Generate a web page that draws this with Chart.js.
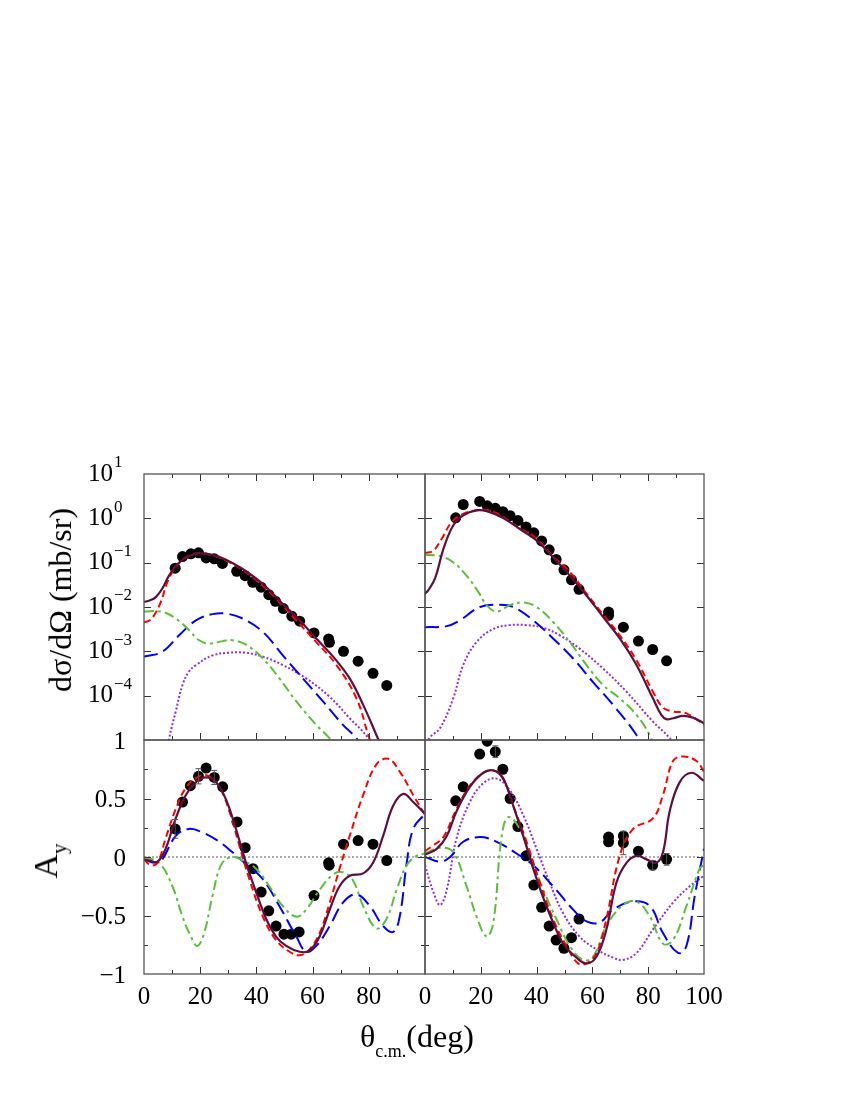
<!DOCTYPE html>
<html><head><meta charset="utf-8">
<script src="https://cdn.jsdelivr.net/npm/chart.js@4.4.0/dist/chart.umd.min.js"></script>
<style>
html,body{margin:0;padding:0;background:#fff;}
body{width:850px;height:1100px;position:relative;overflow:hidden;}
canvas{position:absolute;left:0;top:0;}
.t{position:absolute;font-family:"Liberation Serif","Times New Roman",serif;color:#000;white-space:nowrap;line-height:1;}
#ytitle{left:60px;top:600px;font-size:32px;transform:translate(-50%,-50%) rotate(-90deg);}
#aytitle{left:46px;top:861px;font-size:34px;transform:translate(-50%,-50%) rotate(-90deg);}
#aytitle span{font-size:21px;position:relative;top:9px;}
#xtitle{left:360px;top:1020px;font-size:32px;}
#xtitle span{font-size:18px;position:relative;top:10px;}
</style></head>
<body>
<canvas id="cTL" width="850" height="1100"></canvas>
<canvas id="cTR" width="850" height="1100"></canvas>
<canvas id="cBL" width="850" height="1100"></canvas>
<canvas id="cBR" width="850" height="1100"></canvas>
<div id="ytitle" class="t">dσ/dΩ (mb/sr)</div>
<div id="aytitle" class="t">A<span>y</span></div>
<div id="xtitle" class="t">θ<span>c.m.</span>(deg)</div>
<script>
// ---------- tick labels ----------
const xTickLabelsLeft = ['0','20','40','60','80'];
const xTickLabelsRight = ['0','20','40','60','80','100'];
const logExponents = ['1','0','\u22121','\u22122','\u22123','\u22124'];
const ayTickLabels = ['1','0.5','0','\u22120.5','\u22121'];

// ---------- top-left: cross section ----------
const tlData = [[11.1,0.075],[13.7,0.137],[16.7,0.158],[19.4,0.167],[22.1,0.128],[25.0,0.122],[27.9,0.096],[33.0,0.064],[36.0,0.051],[38.7,0.036],[41.7,0.028],[44.4,0.019],[46.8,0.0134],[49.6,0.0092],[52.6,0.0062],[55.4,0.0048],[60.5,0.0026],[65.7,0.0019],[66.0,0.0016],[71.0,0.0010],[76.2,0.0006],[81.5,0.00032],[86.4,0.00017]];
const tlSolid = [[0,0.013],[2,0.014],[4.2,0.0167],[6.5,0.026],[8.9,0.051],[11.9,0.093],[16,0.14],[19.6,0.162],[24.4,0.15],[29.2,0.117],[35.1,0.072],[42.3,0.033],[49.4,0.0117],[55.4,0.005],[61.3,0.00195],[67.3,0.00076],[73.2,0.000245],[78,0.000062],[82.7,0.000013],[85,0.000006]];
const tlRed = [[0,0.0045],[2,0.005],[3.6,0.0065],[6,0.013],[8.3,0.036],[11.3,0.079],[14.9,0.132],[19.6,0.166],[24.4,0.145],[29.2,0.112],[35.1,0.068],[42.3,0.030],[49.4,0.0107],[54.2,0.005],[61.3,0.00162],[68.5,0.00049],[75.6,0.000087],[79.8,0.000013],[82,0.000005]];
const tlGreen = [[0,0.0079],[6.5,0.0078],[11.3,0.0055],[16,0.003],[19.6,0.00178],[23.2,0.0015],[28,0.0017],[31.5,0.00178],[36.3,0.00141],[42.3,0.00069],[48.2,0.000245],[54.2,0.000074],[61.3,0.000022],[66,0.000011],[70,0.000005]];
const tlBlue = [[0,0.00076],[6.5,0.00098],[12.5,0.0023],[18.5,0.005],[24.4,0.0069],[29.2,0.0071],[35.1,0.0055],[42.3,0.00275],[49.4,0.00081],[56.5,0.000245],[63.7,0.000074],[70.8,0.000022],[75.6,0.000011],[79,0.000005]];
const tlPurple = [[7.5,0.0000015],[8.9,0.00001],[11.3,0.000044],[13.7,0.000174],[16,0.00035],[18.5,0.00049],[24.4,0.00081],[30.4,0.00093],[36.3,0.00093],[42.3,0.00076],[49.4,0.00049],[57.7,0.000245],[66,0.000095],[73.2,0.000031],[79.8,0.000011],[82,0.000005]];

// ---------- top-right: cross section ----------
const trData = [[11.0,1.03],[13.7,2.05],[19.6,2.4],[22.3,1.92],[25.2,1.68],[27.9,1.41],[30.5,1.15],[33.3,0.89],[36.2,0.64],[39.0,0.47],[41.8,0.31],[44.5,0.195],[47.0,0.118],[49.8,0.069],[52.5,0.041],[55.2,0.025],[65.8,0.0077],[65.8,0.0065],[71.1,0.0035],[76.5,0.0017],[81.6,0.0011],[86.6,0.00061]];
const trSolid = [[0,0.02],[1,0.023],[3.6,0.044],[6.6,0.204],[10.1,0.69],[13.7,1.17],[18.5,1.51],[22.1,1.45],[28,1.02],[34,0.575],[40,0.316],[45.9,0.132],[51.9,0.051],[57.9,0.0182],[63.8,0.006],[69.8,0.00195],[75.8,0.00049],[81.7,0.000087],[84.7,0.000037],[86.5,0.0000295],[88.9,0.000031],[92.5,0.000035],[96,0.000032],[100,0.000024]];
const trRed = [[0,0.165],[3,0.186],[6,0.347],[9.5,0.81],[13.7,1.26],[19.7,1.55],[24.5,1.41],[34,0.6],[40,0.347],[45.9,0.138],[51.9,0.062],[57.9,0.02],[63.8,0.0068],[69.8,0.0023],[75.8,0.00063],[81.7,0.000123],[85.3,0.000054],[88.9,0.000044],[93.7,0.00004],[100,0.000022]];
const trGreen = [[0,0.151],[5.4,0.141],[10.1,0.102],[14.9,0.051],[19.1,0.0219],[22.1,0.011],[25.7,0.0079],[30.4,0.011],[35.2,0.0126],[40,0.01],[45.9,0.0046],[51.9,0.00162],[57.9,0.00049],[63.8,0.000174],[69.8,0.000087],[75.8,0.000037],[80.5,0.000013],[83,0.000005]];
const trBlue = [[0,0.0035],[7.8,0.0037],[12.5,0.005],[19.7,0.01],[26.8,0.0112],[31.6,0.01],[38.8,0.005],[45.9,0.00195],[53.1,0.00069],[60.3,0.0002],[67.4,0.000062],[75.8,0.000013],[79,0.000005]];
const trPurple = [[0,0.000007],[1.8,0.0000115],[5.4,0.0000186],[10.1,0.000087],[13.7,0.00049],[18.5,0.00162],[24.5,0.0032],[30.4,0.0039],[36.4,0.0039],[42.4,0.0034],[48.3,0.0023],[55.4,0.00115],[63.8,0.00041],[72.2,0.000123],[81.7,0.000026],[87.7,0.000011],[90,0.000006]];

// ---------- bottom-left: analyzing power ----------
const blData = [[11.1,0.24],[13.7,0.47],[16.5,0.61],[19.4,0.69],[22.1,0.76],[25.0,0.68],[28.0,0.60],[33.1,0.30],[36.0,0.08],[38.8,-0.10],[41.7,-0.30],[44.4,-0.46],[47.0,-0.59],[49.8,-0.66],[52.4,-0.66],[55.2,-0.64],[60.5,-0.33],[65.7,-0.05],[65.9,-0.07],[71.0,0.11],[76.2,0.14],[81.5,0.11],[86.4,-0.03]];
const blErr = [0.08,0,0,0.065,0,0.06,0,0,0,0,0,0,0,0,0,0,0,0,0,0,0,0,0];
const blSolid = [[0,-0.02],[2,-0.03],[4.8,-0.04],[7.7,0.07],[11.3,0.33],[14.9,0.53],[18.5,0.64],[22,0.68],[25.6,0.64],[29.2,0.49],[32.7,0.24],[36.3,-0.05],[39.9,-0.3],[43.5,-0.53],[47,-0.68],[50.6,-0.76],[55.4,-0.81],[58.9,-0.8],[62.5,-0.68],[66.1,-0.45],[69.6,-0.25],[73.2,-0.16],[78,-0.14],[81.5,-0.05],[85.1,0.18],[88.7,0.44],[92.3,0.54],[95.8,0.47],[100,0.37]];
const blRed = [[0,-0.02],[2.4,-0.07],[4.8,-0.05],[7.7,0.16],[11.3,0.41],[14.9,0.59],[19.6,0.69],[23.2,0.69],[26.8,0.6],[30.4,0.39],[33.9,0.1],[37.5,-0.19],[42.3,-0.51],[47,-0.71],[51.8,-0.81],[55.4,-0.84],[58.9,-0.79],[62.5,-0.65],[66.1,-0.39],[69.6,-0.1],[73.2,0.18],[78,0.53],[82.7,0.79],[86.9,0.84],[91,0.73],[95.8,0.53],[100,0.36]];
const blGreen = [[0,0],[5.4,-0.05],[10.1,-0.25],[13.7,-0.51],[16.7,-0.68],[19,-0.76],[21.4,-0.65],[24.4,-0.33],[27.4,-0.07],[31,0],[35.1,-0.03],[39.9,-0.1],[44.6,-0.25],[49.4,-0.42],[54.2,-0.51],[57.7,-0.45],[62.5,-0.28],[67.3,-0.15],[70.8,-0.13],[74.4,-0.2],[78,-0.42],[82.7,-0.61],[86.3,-0.53],[89.9,-0.28],[93.5,-0.07],[97,0.01],[100,0.03]];
const blBlue = [[0,-0.02],[4.2,-0.05],[6.5,-0.02],[11.3,0.18],[16,0.24],[20.8,0.21],[26.8,0.13],[31.5,0.04],[36.3,-0.06],[42.3,-0.19],[48.2,-0.42],[54.2,-0.68],[57.7,-0.81],[61.3,-0.76],[66.1,-0.59],[70.8,-0.39],[75.6,-0.32],[80.4,-0.42],[85.1,-0.59],[88.7,-0.64],[91,-0.51],[93.5,-0.05],[95.8,0.24],[100,0.37]];

// ---------- bottom-right: analyzing power ----------
const brData = [[11.0,0.48],[13.7,0.60],[19.6,0.88],[22.3,0.99],[25.2,0.90],[27.9,0.75],[30.5,0.50],[33.3,0.26],[36.2,0.01],[39.0,-0.24],[41.8,-0.43],[44.5,-0.59],[47.0,-0.71],[49.8,-0.78],[52.5,-0.69],[55.2,-0.53],[65.8,0.17],[65.8,0.13],[71.1,0.18],[71.1,0.12],[76.5,0.05],[81.6,-0.07],[86.6,-0.02]];
const brErr = [0,0,0,0,0.05,0,0,0,0,0,0,0,0,0,0,0,0,0,0,0.1,0,0.04,0.05];
const brSolid = [[0,0.02],[4.2,0.07],[7.8,0.18],[11.3,0.39],[16.1,0.6],[20.9,0.72],[24.5,0.74],[28,0.67],[31.6,0.44],[35.2,0.18],[38.8,-0.1],[42.4,-0.35],[45.9,-0.56],[49.5,-0.74],[54.3,-0.86],[57.9,-0.91],[61.5,-0.85],[65,-0.62],[68.6,-0.22],[72.2,-0.05],[75.8,0.01],[79.4,-0.02],[82.9,-0.05],[85.3,0.04],[87.7,0.39],[91.3,0.64],[95.5,0.72],[100,0.65]];
const brRed = [[0,0.05],[3,0.1],[6.6,0.17],[11.3,0.41],[16.1,0.61],[20.9,0.72],[23.9,0.74],[27.4,0.7],[31.6,0.44],[36.4,0.13],[41.2,-0.22],[45.9,-0.53],[50.7,-0.76],[54.9,-0.91],[57.9,-0.91],[61.5,-0.82],[65,-0.53],[69.8,0.01],[74.6,0.24],[81.7,0.33],[85.3,0.53],[88.9,0.82],[92.5,0.86],[97.3,0.82],[100,0.73]];
const brGreen = [[0,0.03],[5.4,0.08],[10.1,0.04],[14.9,-0.25],[18.5,-0.51],[22.1,-0.68],[24.5,-0.56],[27.4,0.16],[29.8,0.34],[34,0.24],[37.6,0.01],[42.4,-0.28],[47.1,-0.53],[51.9,-0.76],[56.7,-0.88],[60.3,-0.85],[65,-0.59],[71,-0.41],[75.8,-0.38],[80.6,-0.51],[85.3,-0.74],[88.9,-0.71],[93.7,-0.42],[98.4,-0.1],[100,-0.07]];
const brBlue = [[0,0],[5.4,-0.04],[9,0],[13.7,0.13],[19.7,0.17],[25.7,0.13],[32.8,0.03],[38.8,-0.07],[45.9,-0.25],[53.1,-0.45],[57.9,-0.55],[62.6,-0.56],[67.4,-0.45],[74.6,-0.38],[80.6,-0.42],[85.3,-0.65],[90.7,-0.82],[93.7,-0.76],[96.7,-0.33],[100,0.07]];
const brPurple = [[0,-0.07],[3,-0.3],[5.4,-0.41],[7.8,-0.28],[11.3,0.16],[16.1,0.47],[20.9,0.63],[25.7,0.67],[30.4,0.57],[35.2,0.36],[40,0.07],[44.7,-0.22],[49.5,-0.48],[55.4,-0.68],[61.5,-0.79],[67.4,-0.86],[71,-0.88],[75.8,-0.82],[81.7,-0.62],[88.9,-0.39],[94.9,-0.25],[100,-0.16]];
const zeroLine = [[0,0],[100,0]];

// ---------- styling ----------
const FONT = '"Liberation Serif","Times New Roman",serif';
const C_SOLID = '#5e0f3e', C_RED = '#ff0000', C_GREEN = '#5cbf3a', C_BLUE = '#0000ff', C_PURPLE = '#8f2fe0';

function curve(data, color, dash, width){
  return {data, borderColor:color, borderDash:dash, borderWidth:width, pointRadius:0, fill:false,
          tension:0.4, borderCapStyle:'butt'};
}
function dots(data, errs){
  return {data, errs, showLine:false, pointRadius:5.5, pointHoverRadius:5.5,
          pointBackgroundColor:'#000', pointBorderColor:'#000', pointBorderWidth:0};
}
function sets(solid, red, green, blue, purple, pts, errs, zero){
  const s = [curve(solid, C_SOLID, [], 2.2), curve(red, C_RED, [7,4], 2)];
  if (green) s.push(curve(green, C_GREEN, [10,4,3,4], 2));
  if (blue) s.push(curve(blue, C_BLUE, [14,6], 2));
  if (purple) s.push(curve(purple, C_PURPLE, [2,2], 2));
  s.push(dots(pts, errs));
  if (zero) { const z = curve(zero, '#333', [2,2], 0.8); z.tension = 0; s.push(z); }
  return s;
}

function deco(opt){
  return {
    id:'deco',
    afterDatasetsDraw(chart){
      const {ctx, scales:{x,y}} = chart;
      chart.data.datasets.forEach(ds=>{
        if(!ds.errs) return;
        ctx.save(); ctx.strokeStyle='#555'; ctx.lineWidth=1;
        ds.data.forEach((p,i)=>{
          const e = ds.errs[i]; if(!e) return;
          const px = x.getPixelForValue(p[0]);
          const y1 = y.getPixelForValue(p[1]+e), y2 = y.getPixelForValue(p[1]-e);
          ctx.beginPath(); ctx.moveTo(px,y1); ctx.lineTo(px,y2);
          ctx.moveTo(px-3,y1); ctx.lineTo(px+3,y1); ctx.moveTo(px-3,y2); ctx.lineTo(px+3,y2);
          ctx.stroke();
        });
        ctx.restore();
      });
    },
    afterDraw(chart){
      const {ctx, chartArea:a, scales:{x,y}} = chart;
      ctx.save();
      ctx.strokeStyle='#333'; ctx.lineWidth=1;
      ctx.beginPath();
      for(let v=10; v<100; v+=10){
        const px = Math.round(x.getPixelForValue(v))+0.5;
        const len = v%20===0 ? 7 : 4;
        ctx.moveTo(px,a.bottom); ctx.lineTo(px,a.bottom-len);
        if(opt.topTicks){ ctx.moveTo(px,a.top); ctx.lineTo(px,a.top+len); }
      }
      opt.yTicks.forEach(t=>{
        const py = Math.round(y.getPixelForValue(t.v))+0.5;
        ctx.moveTo(a.left,py); ctx.lineTo(a.left+t.len,py);
        ctx.moveTo(a.right,py); ctx.lineTo(a.right-t.len,py);
      });
      ctx.stroke();
      ctx.strokeStyle='#555'; ctx.lineWidth=1.3;
      ctx.strokeRect(a.left, a.top, a.right-a.left, a.bottom-a.top);
      ctx.fillStyle='#000';
      if(opt.logLabels){
        opt.logLabels.forEach((lab,i)=>{
          const py = y.getPixelForValue(opt.logVals[i]);
          ctx.font = '25px '+FONT; ctx.textAlign='right'; ctx.textBaseline='middle';
          ctx.fillText('10', 113, py);
          ctx.font = '17px '+FONT; ctx.textAlign='left';
          ctx.fillText(lab, 114, py-11);
        });
      }
      if(opt.linLabels){
        ctx.font = '25px '+FONT; ctx.textAlign='right'; ctx.textBaseline='middle';
        opt.linLabels.forEach((lab,i)=>{
          ctx.fillText(lab, 126, y.getPixelForValue(opt.linVals[i])+2);
        });
      }
      if(opt.xLabels){
        ctx.font = '25px '+FONT; ctx.textAlign='center'; ctx.textBaseline='middle';
        opt.xLabels.forEach(lab=>{
          ctx.fillText(lab, x.getPixelForValue(+lab), 997);
        });
      }
      ctx.restore();
    }
  };
}

function build(id, area, yScale, datasets, opt){
  return new Chart(document.getElementById(id), {
    type:'line',
    data:{datasets},
    options:{
      responsive:false, maintainAspectRatio:false, animation:false, events:[],
      layout:{padding:{left:area.l, top:area.t, right:850-area.r, bottom:1100-area.b}},
      scales:{
        x:{type:'linear', min:0, max:100, display:false},
        y:Object.assign({display:false}, yScale)
      },
      plugins:{legend:{display:false}, tooltip:{enabled:false}}
    },
    plugins:[deco(opt)]
  });
}

const LEFT = {l:144, r:425}, RIGHT = {l:425, r:704};
const TOP = {t:474, b:740}, BOT = {t:740, b:974};
const logScale = {type:'logarithmic', min:1e-5, max:10};
const linScale = {type:'linear', min:-1, max:1};
const logTicks = [1e-4,1e-3,1e-2,1e-1,1].map(v=>({v, len:7}));
const linTicks = [-0.75,-0.5,-0.25,0,0.25,0.5,0.75].map(v=>({v, len: (v*2)%1===0 ? 7 : 4}));
const logTickVals = [10,1,0.1,0.01,0.001,0.0001];
const linTickVals = [1,0.5,0,-0.5,-1];

build('cTL', {l:LEFT.l, r:LEFT.r, t:TOP.t, b:TOP.b}, logScale,
  sets(tlSolid, tlRed, tlGreen, tlBlue, tlPurple, tlData, null, null),
  {topTicks:true, yTicks:logTicks, logLabels:logExponents, logVals:logTickVals});
build('cTR', {l:RIGHT.l, r:RIGHT.r, t:TOP.t, b:TOP.b}, logScale,
  sets(trSolid, trRed, trGreen, trBlue, trPurple, trData, null, null),
  {topTicks:true, yTicks:logTicks});
build('cBL', {l:LEFT.l, r:LEFT.r, t:BOT.t, b:BOT.b}, linScale,
  sets(blSolid, blRed, blGreen, blBlue, null, blData, blErr, zeroLine),
  {topTicks:false, yTicks:linTicks, linLabels:ayTickLabels, linVals:linTickVals, xLabels:xTickLabelsLeft});
build('cBR', {l:RIGHT.l, r:RIGHT.r, t:BOT.t, b:BOT.b}, linScale,
  sets(brSolid, brRed, brGreen, brBlue, brPurple, brData, brErr, zeroLine),
  {topTicks:false, yTicks:linTicks, xLabels:xTickLabelsRight});
</script>
</body></html>
